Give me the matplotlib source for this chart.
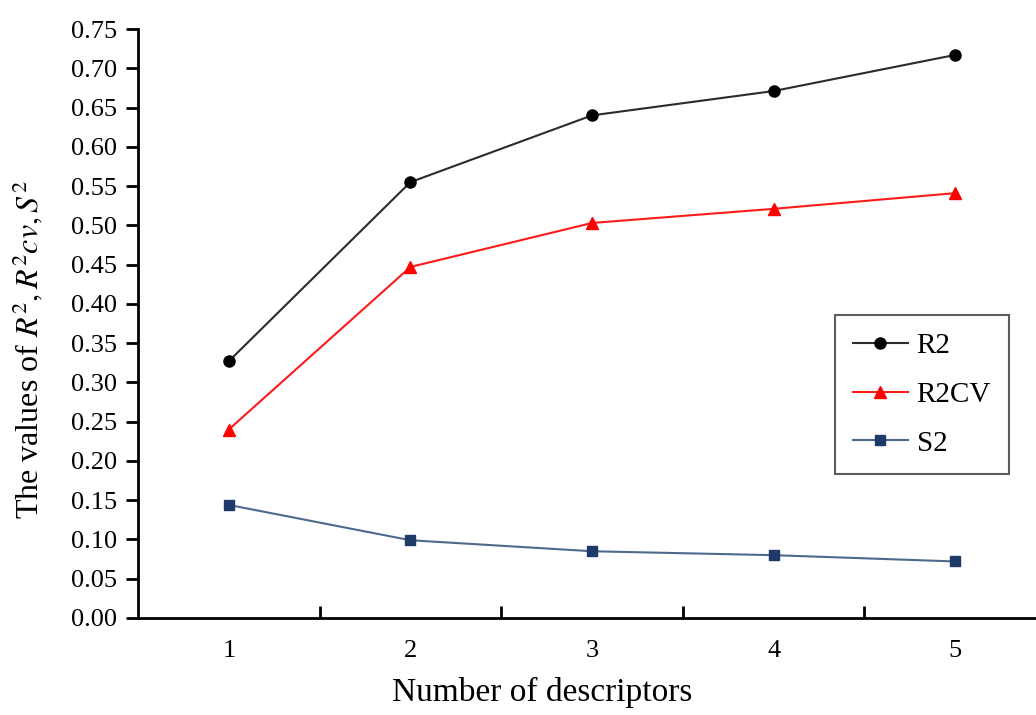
import matplotlib.pyplot as plt
from matplotlib.ticker import MultipleLocator, FixedLocator, NullFormatter

n_desc = [1, 2, 3, 4, 5]
r2 = [0.327, 0.555, 0.640, 0.671, 0.717]
r2cv = [0.240, 0.447, 0.503, 0.521, 0.541]
s2 = [0.144, 0.099, 0.085, 0.080, 0.072]

plt.rcParams['font.family'] = ['Liberation Serif', 'DejaVu Serif']
plt.rcParams['mathtext.fontset'] = 'stix'

fig = plt.figure(figsize=(10.36, 7.15), dpi=100)
# axes run a little past the right edge of the canvas
ax = fig.add_axes([138 / 1036, (715 - 618) / 715, (1046 - 138) / 1036, (618 - 29) / 715])

ax.plot(n_desc, r2, color='#2b2b2b', lw=1.5, marker='o', ms=8,
        mfc='black', mec='black', label='R2')
ax.plot(n_desc, r2cv, color='#ff1a1a', lw=1.5, marker='^', ms=9,
        mfc='#ff0000', mec='#ff0000', label='R2CV')
ax.plot(n_desc, s2, color='#4d6a8c', lw=1.5, marker='s', ms=6.5,
        mfc='#1f3a68', mec='#1f3a68', label='S2')

ax.set_xlim(0.5, 5.5)
ax.set_ylim(0, 0.75)
ax.yaxis.set_major_locator(MultipleLocator(0.05))
ax.yaxis.set_major_formatter(plt.FuncFormatter(lambda v, p: f"{v:.2f}"))

# category axis: labels at centres, ticks at boundaries
ax.set_xticks(n_desc)
ax.set_xticklabels([str(n) for n in n_desc])
ax.tick_params(axis='x', which='major', length=0, pad=16, labelsize=19)
ax.xaxis.set_minor_locator(FixedLocator([1.5, 2.5, 3.5, 4.5]))
ax.xaxis.set_minor_formatter(NullFormatter())
ax.tick_params(axis='x', which='minor', direction='in', length=9, width=2)
ax.tick_params(axis='y', direction='out', length=9, width=2, labelsize=19, pad=6)

for side in ['top', 'right']:
    ax.spines[side].set_visible(False)
for side in ['left', 'bottom']:
    ax.spines[side].set_linewidth(2)

ax.set_xlabel('Number of descriptors', fontsize=24)
ax.xaxis.set_label_coords((542 - 138) / (1046 - 138), -(692 - 618) / 589)
ax.xaxis.label.set_va('center')
ax.set_ylabel('The values of $R^2, R^2cv, S^2$', fontsize=23)
ax.yaxis.set_label_coords(-(138 - 28) / 908, (618 - 350) / 589)
ax.yaxis.label.set_va('center')

leg = ax.legend(loc='upper left', bbox_to_anchor=((835 - 138) / 908, (618 - 315) / 589),
                fontsize=21, frameon=True, fancybox=False, edgecolor='#333333',
                borderpad=0.6, labelspacing=0.77, handlelength=1.9,
                handletextpad=0.3, borderaxespad=0)
leg.get_frame().set_linewidth(1.5)

fig.savefig('out.png', dpi=100)
